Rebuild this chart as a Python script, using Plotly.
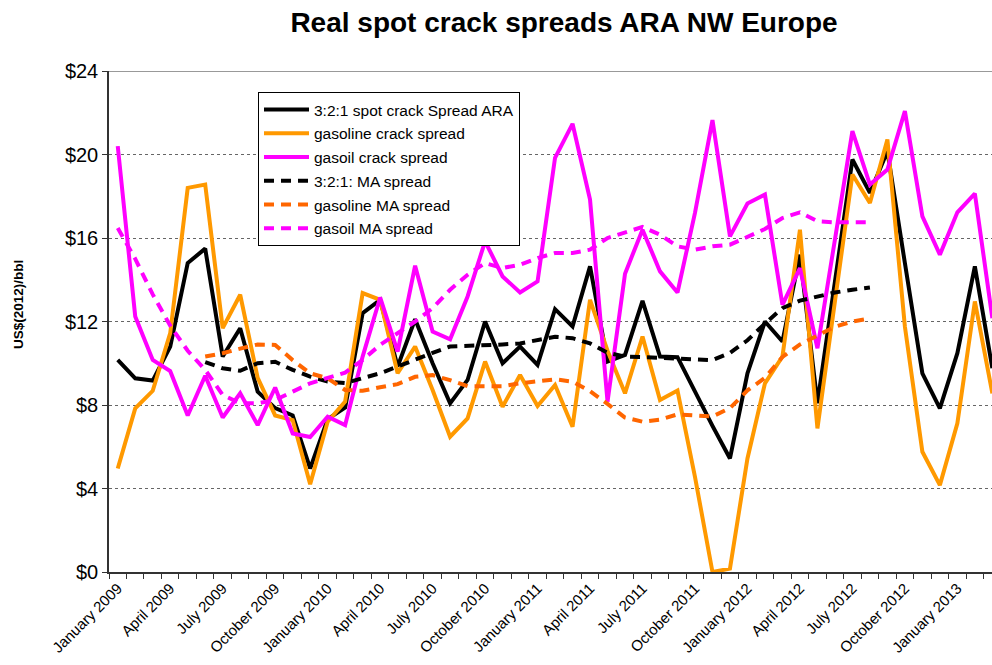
import plotly.graph_objects as go

months = ["January", "February", "March", "April", "May", "June", "July",
          "August", "September", "October", "November", "December"]
categories = [f"{months[i % 12]} {2009 + i // 12}" for i in range(51)]

spot_321 = [10.16, 9.28, 9.17, 10.8, 14.8, 15.49, 10.32, 11.68, 8.64, 7.85,
            7.5, 4.96, 7.32, 7.88, 12.4, 13.04, 9.84, 12.11, 10.0, 8.08,
            9.2, 12.0, 10.0, 10.8, 9.92, 12.59, 11.76, 14.64, 10.08, 10.4,
            12.99, 10.32, 10.29, 8.62, 7.0, 5.44, 9.52, 12.0, 11.04, 15.2,
            8.08, 13.9, 19.76, 18.16, 20.16, 14.8, 9.52, 7.84, 10.48, 14.64,
            9.76]
gasoline = [4.96, 7.84, 8.68, 11.44, 18.4, 18.56, 11.68, 13.28, 9.3, 7.5,
            7.28, 4.2, 7.2, 8.16, 13.36, 13.04, 9.52, 10.8, 8.72, 6.48,
            7.36, 10.08, 7.92, 9.44, 7.95, 8.96, 6.96, 13.04, 10.6, 8.56,
            11.28, 8.24, 8.69, 4.56, 0.0, 0.16, 5.44, 9.04, 10.32, 16.4,
            6.88, 12.96, 19.04, 17.68, 20.72, 11.76, 5.76, 4.16, 7.12, 12.96,
            8.56]
gasoil = [20.4, 12.24, 10.16, 9.62, 7.5, 9.4, 7.4, 8.56, 7.04, 8.84,
          6.64, 6.47, 7.44, 7.04, 10.32, 13.15, 10.56, 14.67, 11.52, 11.15,
          13.2, 15.84, 14.16, 13.39, 13.92, 19.84, 21.47, 17.84, 8.16, 14.29,
          16.4, 14.4, 13.39, 17.2, 21.65, 16.08, 17.65, 18.08, 12.8, 14.56,
          10.72, 15.9, 21.12, 18.56, 19.28, 22.08, 17.04, 15.2, 17.23, 18.13,
          12.16]

N = None
spot_ma = [N, N, N, N, N, 10.05, 9.76, 9.64, 10.0, 10.07,
           9.68, 9.36, 9.12, 9.05, 9.27, 9.52, 9.84, 10.18, 10.5, 10.8,
           10.82, 10.88, 10.9, 10.95, 11.1, 11.27, 11.2, 10.95, 10.5, 10.32,
           10.3, 10.27, 10.24, 10.18, 10.15, 10.5, 11.1, 11.9, 12.64, 13.0,
           13.2, 13.39, 13.52, 13.63, N, N, N, N, N, N, N]
gasoline_ma = [N, N, N, N, N, 10.32, 10.48, 10.7, 10.9, 10.88,
               10.15, 9.52, 9.28, 8.72, 8.68, 8.85, 9.0, 9.35, 9.43, 9.19,
               8.9, 8.9, 8.9, 9.04, 9.12, 9.23, 9.12, 8.66, 8.05, 7.4,
               7.2, 7.3, 7.55, 7.5, 7.45, 7.85, 8.7, 9.3, 10.3, 10.9,
               11.35, 11.75, 12.0, 12.15, N, N, N, N, N, N, N]
gasoil_ma = [16.48, 15.0, 13.3, 11.8, 10.6, 9.68, 8.48, 8.08, 8.08, 8.24,
             8.64, 9.04, 9.3, 9.55, 10.16, 10.88, 11.44, 12.0, 12.64, 13.52,
             14.24, 14.8, 14.56, 14.72, 15.04, 15.28, 15.28, 15.44, 16.0, 16.27,
             16.53, 16.16, 15.6, 15.44, 15.6, 15.68, 16.08, 16.43, 16.96, 17.23,
             16.8, 16.75, 16.75, 16.75, N, N, N, N, N, N, N]

y_ticks = [0, 4, 8, 12, 16, 20, 24]
y_labels = [f"${v}" for v in y_ticks]
x_tickvals = list(range(0, 51, 3))
x_ticktext = [categories[i] for i in x_tickvals]

FONT = "Liberation Sans, Arial, sans-serif"
xs = list(range(51))

series = [
    ("3:2:1 spot crack Spread ARA", spot_321, "#000000", "solid"),
    ("gasoline crack spread", gasoline, "#FF9900", "solid"),
    ("gasoil crack spread", gasoil, "#FF00FF", "solid"),
    ("3:2:1: MA spread", spot_ma, "#000000", "10px,7px"),
    ("gasoline MA spread", gasoline_ma, "#FF6600", "10px,7px"),
    ("gasoil MA spread", gasoil_ma, "#FF00FF", "10px,7px"),
]

fig = go.Figure()
for k, (name, vals, color, dash) in enumerate(series):
    fig.add_trace(go.Scatter(
        x=xs, y=vals, name=name, mode="lines", legendgroup=f"g{k}",
        line=dict(color=color, width=4, dash=dash),
        connectgaps=False, hoverinfo="skip",
    ))

# figure fills the whole 992x665 window (body margin removed below)
W, H = 992, 665
L, T = 109, 71
B = H - 572
PW = W - L
PH = H - T - B

fig.update_layout(
    width=W, height=H,
    margin=dict(l=L, r=0, t=T, b=B, autoexpand=False),
    paper_bgcolor="white", plot_bgcolor="white",
    font=dict(family=FONT, color="black"),
    showlegend=True,
    title=dict(text="<b>Real spot crack spreads ARA NW Europe</b>",
               x=564 / W, xref="container", xanchor="center",
               y=1 - 22 / H, yref="container", yanchor="middle",
               font=dict(size=28, family=FONT, color="black")),
    legend=dict(x=(258 - L) / PW, y=(572 - 92) / PH, xanchor="left",
                yanchor="top",
                bgcolor="white", bordercolor="black", borderwidth=1,
                font=dict(size=15.5, family=FONT, color="black"),
                tracegroupgap=0.6, itemwidth=45),
    xaxis=dict(range=[-0.5, 49.98], tickmode="array", automargin=False,
               tickvals=x_tickvals, ticktext=x_ticktext, tickangle=-45,
               ticks="", showgrid=False, zeroline=False,
               showline=True, linecolor="#333333", linewidth=1.5,
               tickfont=dict(size=15, family=FONT, color="black"),
               minor=dict(tick0=-0.5, dtick=1, ticks="outside", ticklen=5,
                          tickcolor="#333333", tickwidth=1, showgrid=False)),
    yaxis=dict(range=[0, 24], tickmode="array", tickvals=y_ticks,
               automargin=False,
               ticktext=y_labels, ticks="outside", ticklen=5,
               tickcolor="#333333", showline=True, linecolor="#333333",
               linewidth=1.5, showgrid=True, gridcolor="#666666",
               griddash="dot", gridwidth=1, zeroline=False,
               tickfont=dict(size=20, family=FONT, color="black")),
    annotations=[dict(text="<b>US$(2012)/bbl</b>", textangle=-90,
                      x=(18 - L) / PW, xref="paper", xanchor="center",
                      y=(572 - 305) / PH, yref="paper", yanchor="middle",
                      showarrow=False,
                      font=dict(size=13.5, family=FONT, color="black"))],
)

fig.add_shape(type="line", xref="paper", x0=0, x1=1, yref="y", y0=24, y1=24,
              line=dict(color="#999999", width=2), layer="below")

fig.write_html(
    "out.html",
    config={"displayModeBar": False},
    post_script="document.body.style.margin='0';"
                "document.body.style.overflow='hidden';"
                "document.documentElement.style.overflow='hidden';",
)
